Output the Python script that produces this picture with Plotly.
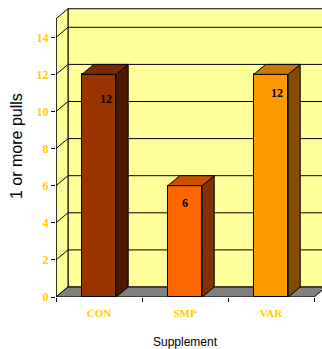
import plotly.graph_objects as go

# ---- data ----
categories = ["CON", "SMP", "VAR"]
values = [12, 6, 12]
y_ticks = [0, 2, 4, 6, 8, 10, 12, 14]
y_axis_max = 15

# ---- style ----
front_colors = ["#993300", "#FF6600", "#FF9900"]
top_colors = ["#7A2900", "#C85000", "#C87800"]
side_colors = ["#4D1A00", "#803300", "#804D00"]
label_dx = [7, 0, 6]      # pixel shifts of value labels
label_dy = [-25, -17, -19]
wall_color = "#FFFF99"
floor_color = "#808080"
gold = "#FFCC00"

W, H = 322, 349
ML, MR, MT, MB = 56, 0, 8, 52
px_per_cat = 86.0
px_per_unit = 18.55
plot_w = W - ML - MR
plot_h = H - MT - MB
x_range = [-0.5, -0.5 + plot_w / px_per_cat]
y_range = [0, plot_h / px_per_unit]
DX = 12 / px_per_cat   # depth offset in category units
DY = 10 / px_per_unit  # depth offset in value units
BW = 0.4               # bar width (category units)

n = len(categories)
x0, x1 = -0.5, n - 0.5

shapes = []
def poly(pts, fill, layer="below", lw=1):
    path = "M " + " L ".join(f"{a},{b}" for a, b in pts) + " Z"
    shapes.append(dict(type="path", path=path, xref="x", yref="y",
                       fillcolor=fill, line=dict(color="black", width=lw), layer=layer))

def line(a, b, c, d, color="black", lw=1):
    shapes.append(dict(type="line", x0=a, y0=b, x1=c, y1=d, xref="x", yref="y",
                       line=dict(color=color, width=lw), layer="below"))

# back wall
poly([(x0 + DX, DY), (x1 + DX, DY), (x1 + DX, y_axis_max + DY), (x0 + DX, y_axis_max + DY)], wall_color)
# left wall
poly([(x0, 0), (x0, y_axis_max), (x0 + DX, y_axis_max + DY), (x0 + DX, DY)], wall_color)
# gridlines
for v in y_ticks[1:]:
    line(x0 + DX, v + DY, x1 + DX, v + DY)
    line(x0, v, x0 + DX, v + DY)
# floor
poly([(x0, 0), (x1, 0), (x1 + DX, DY), (x0 + DX, DY)], floor_color)
# front value axis line
line(x0, 0, x0, y_axis_max, lw=1.2)

fig = go.Figure()

# front faces
fig.add_trace(go.Bar(
    x=list(range(n)), y=values, width=BW,
    marker=dict(color=front_colors, line=dict(color="black", width=1)),
    hoverinfo="skip", showlegend=False,
))

# side and top faces computed from the data
for i, v in enumerate(values):
    l, r = i - BW / 2, i + BW / 2
    fig.add_trace(go.Scatter(
        x=[r, r, r + DX, r + DX, r], y=[0, v, v + DY, DY, 0],
        mode="lines", fill="toself", fillcolor=side_colors[i],
        line=dict(color="black", width=1), hoverinfo="skip", showlegend=False))
    fig.add_trace(go.Scatter(
        x=[l, r, r + DX, l + DX, l], y=[v, v, v + DY, v + DY, v],
        mode="lines", fill="toself", fillcolor=top_colors[i],
        line=dict(color="black", width=1), hoverinfo="skip", showlegend=False))

annotations = []
for i, v in enumerate(values):
    annotations.append(dict(
        x=i, y=v, xref="x", yref="y", text=str(v), showarrow=False,
        xshift=label_dx[i], yshift=label_dy[i],
        font=dict(family="Liberation Serif", size=12, color="black", weight="bold")))

annotations.append(dict(
    x=0, y=0.5225, xref="paper", yref="paper", xshift=-39, text="1 or more pulls",
    textangle=-90, showarrow=False, xanchor="center", yanchor="middle",
    font=dict(family="Liberation Sans", size=16, color="black")))
annotations.append(dict(
    x=1, y=0, xref="x", yref="paper", yshift=-36, text="Supplement",
    showarrow=False, xanchor="center", yanchor="top",
    font=dict(family="Liberation Sans", size=12, color="black")))

fig.update_layout(
    width=W, height=H, margin=dict(l=ML, r=MR, t=MT, b=MB, pad=0),
    paper_bgcolor="white", plot_bgcolor="white",
    shapes=shapes, annotations=annotations, bargap=0,
    xaxis=dict(range=x_range, showgrid=False, zeroline=False, showline=False,
               tickvals=list(range(n)), ticktext=categories, ticks="",
               ticklabelstandoff=8,
               tickfont=dict(family="Liberation Serif", size=11, color=gold, weight="bold"),
               minor=dict(tickvals=[k - 0.5 for k in range(n + 1)], ticks="outside",
                          ticklen=4, tickcolor="black", tickwidth=1, showgrid=False),
               fixedrange=True),
    yaxis=dict(range=y_range, showgrid=False, zeroline=False, showline=False,
               tickvals=y_ticks, ticks="outside", ticklen=4, tickcolor="black",
               tickfont=dict(family="Liberation Serif", size=12, color=gold, weight="bold"),
               fixedrange=True),
)

fig.write_html("out.html", config={"displayModeBar": False})
